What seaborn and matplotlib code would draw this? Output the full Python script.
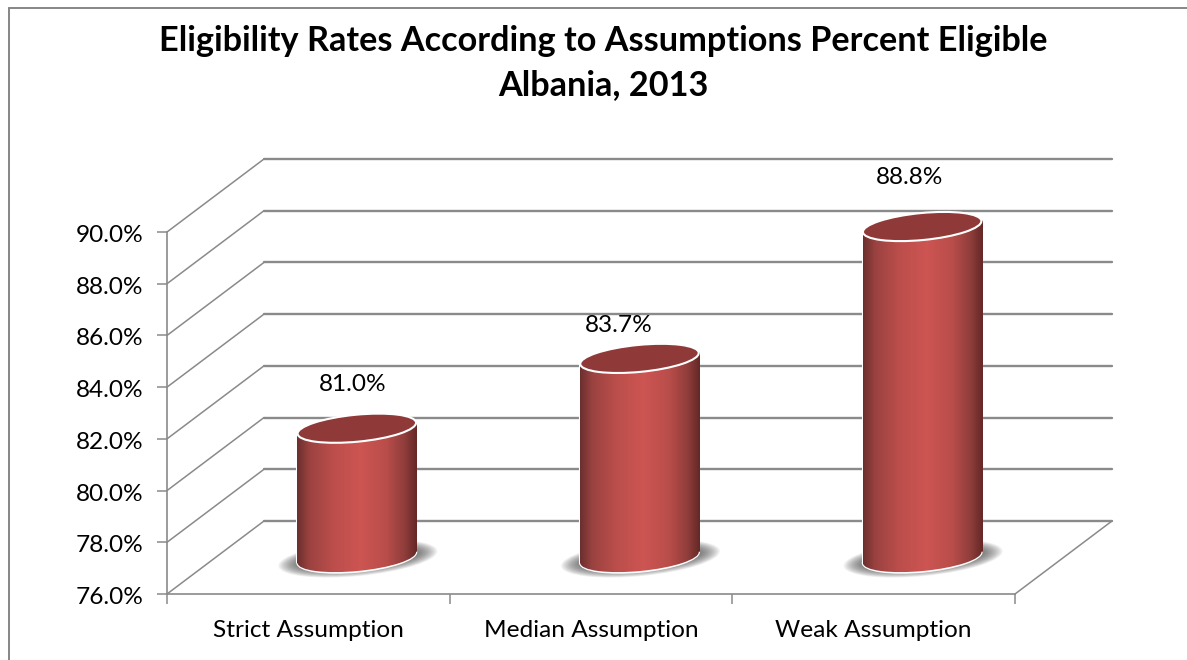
import numpy as np
import pandas as pd
import matplotlib
matplotlib.use("Agg")
import matplotlib.pyplot as plt
from matplotlib.patches import Ellipse, ConnectionPatch, Polygon
from matplotlib.colors import LinearSegmentedColormap
from matplotlib.lines import Line2D
from matplotlib.transforms import ScaledTranslation, IdentityTransform
import seaborn as sns

categories = ["Strict Assumption", "Median Assumption", "Weak Assumption"]
values = [81.0, 83.7, 88.8]
value_labels = ["81.0%", "83.7%", "88.8%"]
y_ticks = [76, 78, 80, 82, 84, 86, 88, 90]
title = "Eligibility Rates According to Assumptions Percent Eligible\nAlbania, 2013"

sns.set_theme(style="white")
plt.rcParams["font.family"] = ["Lato", "DejaVu Sans"]

W, H = 1187, 660
GRAY = "#8a8a8a"
FS = 17.6
fig = plt.figure(figsize=(W / 100, H / 100), dpi=100, facecolor="white")


def make_axes(left, right, top, bottom, z):
    a = fig.add_axes([left / W, 1 - bottom / H, (right - left) / W, (bottom - top) / H], zorder=z)
    a.patch.set_alpha(0)
    a.set_xlim(-0.5, 2.5)
    a.set_ylim(76, 90)
    return a


# chart frame
fig.add_artist(Line2D([9 / W, 9 / W], [0, 1 - 8 / H], color="#868686", lw=1.4))
fig.add_artist(Line2D([9 / W, 1], [1 - 8 / H, 1 - 8 / H], color="#868686", lw=1.4))

L, R, T, B = 167, 1015, 232, 594
DX, DY = 97, 73

# back wall
ax_back = make_axes(L + DX, R + DX, T - DY, B - DY, 1)
ax_back.set_yticks(y_ticks)
ax_back.set_xticks([])
ax_back.grid(axis="y", color=GRAY, lw=1.7)
ax_back.tick_params(left=False, labelleft=False)
for s in ax_back.spines.values():
    s.set_visible(False)
for t in ax_back.get_ygridlines():
    t.set_clip_on(False)

# front plane, holding the axes
ax = make_axes(L, R, T, B, 2)
ax.set_yticks(y_ticks)
ax.set_yticklabels([f"{v:.1f}%" for v in y_ticks], fontsize=FS, color="black")
ax.set_xticks([-0.5, 0.5, 1.5, 2.5])
ax.set_xticklabels([])
ax.set_xticks([0, 1, 2], minor=True)
ax.set_xticklabels(categories, minor=True, fontsize=FS, color="black")
ax.tick_params(axis="x", which="major", length=7, width=1.1, color=GRAY, bottom=True)
ax.tick_params(axis="x", which="minor", length=0, pad=18.5, bottom=True)
ax.tick_params(axis="y", length=7, width=1.1, color=GRAY, left=True, pad=10)
sns.despine(ax=ax)
for s in ("left", "bottom"):
    ax.spines[s].set_color(GRAY)
    ax.spines[s].set_linewidth(1.2)
shift = ScaledTranslation(0, -1.5 / 100, fig.dpi_scale_trans)
for lab in ax.get_yticklabels():
    lab.set_transform(lab.get_transform() + shift)

# side-wall and floor diagonals
for v in y_ticks:
    fig.add_artist(ConnectionPatch((-0.5, v), (-0.5, v), "data", "data", axesA=ax, axesB=ax_back,
                                   color=GRAY, lw=1.1))
fig.add_artist(ConnectionPatch((2.5, 76), (2.5, 76), "data", "data", axesA=ax, axesB=ax_back,
                               color=GRAY, lw=1.1))

# bars stand half way into the depth
ax_mid = make_axes(L + DX / 2, R + DX / 2, T - DY / 2, B - DY / 2, 3)
df = pd.DataFrame({"category": categories, "value": values})
sns.barplot(data=df, x="category", y="value", ax=ax_mid, width=0.422, color="#c0504d",
            saturation=1, edgecolor="white", linewidth=1.5, zorder=2)
ax_mid.set_xlim(-0.5, 2.5)
ax_mid.set_ylim(76, 90)
ax_mid.axis("off")

cmap = LinearSegmentedColormap.from_list(
    "cyl", [(0, "#6b2f2e"), (0.1, "#9a4240"), (0.3, "#bb4e4b"), (0.53, "#cd5552"),
            (0.75, "#b84d4a"), (0.9, "#8f3d3b"), (1, "#642826")])
grad = np.linspace(0, 1, 256).reshape(1, -1)
labels_off = [(-4, 44), (-21, 33), (-13, 49)]
ELL_W, ELL_H, TILT = 119, 27, 5.5
identity = IdentityTransform()
px_per_x = (R - L) / 3

for i, (bar, v) in enumerate(zip(list(ax_mid.patches), values)):
    x0, w = bar.get_x(), bar.get_width()
    cx, cy = ax_mid.transData.transform((i, v))
    bx, by = ax_mid.transData.transform((i, 76))
    hw = w * px_per_x / 2 + 2
    rise = hw * np.tan(np.radians(TILT))

    # soft floor shadow
    for k in range(20):
        ax_mid.add_patch(Ellipse((bx + 1, by - 1), 122 + 2.0 * k, 21 + 0.75 * k, angle=TILT, transform=identity,
                                 fc="#4a4a4a", ec="none", alpha=0.05, zorder=1, clip_on=False))

    # lower rim
    ax_mid.add_patch(Ellipse((bx, by), ELL_W + 1, ELL_H + 2, angle=TILT, transform=identity, fc="white",
                             ec="white", lw=1, zorder=2, clip_on=False))
    floor = Ellipse((bx, by), ELL_W, ELL_H, angle=TILT, transform=identity, fc="none", ec="none", zorder=2)
    ax_mid.add_patch(floor)

    # cylinder side, cut along the tilt of its two end ellipses
    side = Polygon([(cx - hw, cy - rise), (cx + hw, cy + rise), (bx + hw, by + rise), (bx - hw, by - rise)],
                   closed=True, transform=identity, fc="none", ec="none")
    ax_mid.add_patch(side)
    bar.set_clip_box(fig.bbox)
    bar.set_clip_path(side)
    for clip in (side, floor):
        im = ax_mid.imshow(grad, cmap=cmap, aspect="auto", extent=(x0, x0 + w, 75.0, v + 0.3), zorder=3)
        im.set_clip_box(fig.bbox)
        im.set_clip_path(clip)

    # cap
    ax_mid.add_patch(Ellipse((cx, cy), ELL_W, ELL_H, angle=TILT, transform=identity, fc="#8f3a39", ec="white",
                             lw=1.5, zorder=4, clip_on=False))

    dx, dy = labels_off[i]
    ax_mid.annotate(value_labels[i], (i, v), xytext=(dx * 0.72, dy * 0.72), textcoords="offset points",
                    ha="center", va="center", fontsize=FS, color="black", annotation_clip=False, zorder=5)

ax_mid.set_xlim(-0.5, 2.5)
ax_mid.set_ylim(76, 90)

fig.suptitle(title, x=603 / W, y=1 - 63 / H, va="center", ha="center", fontsize=24.7,
             fontweight="bold", color="black", linespacing=1.47)

fig.savefig("out.png", dpi=100, facecolor="white")
